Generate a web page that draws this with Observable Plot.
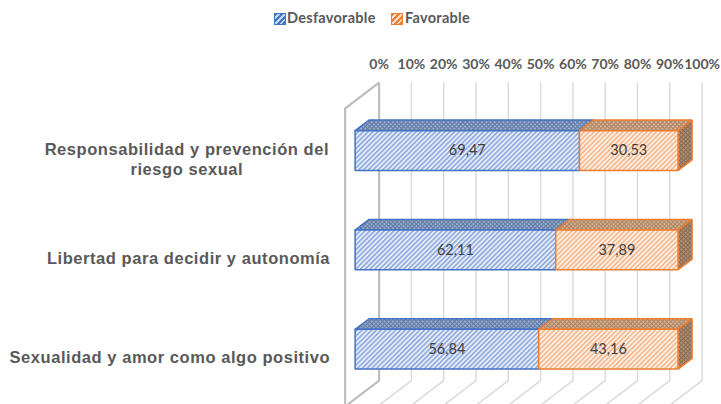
<!DOCTYPE html>
<html lang="es">
<head>
<meta charset="utf-8">
<script src="https://cdn.jsdelivr.net/npm/d3@7"></script>
<script src="https://cdn.jsdelivr.net/npm/@observablehq/plot@0.6"></script>
<style>
html,body{margin:0;padding:0;background:#fff;overflow:hidden}
#legend{height:36px;position:relative;font:700 14.5px Lato,sans-serif;color:#595959;letter-spacing:.28px}
#legend span{position:absolute;top:9px;line-height:18px}
#legend i{position:absolute;top:13px;width:10px;height:10px;display:block}
.cat text{letter-spacing:.55px}
</style>
</head>
<body>
<div id="legend">
  <i style="left:274px;border:1px solid #4472C4;background:repeating-linear-gradient(135deg,#4472C4 0 2px,#c9d6ef 2px 4px)"></i>
  <span style="left:287px">Desfavorable</span>
  <i style="left:391px;border:1px solid #ED7D31;background:repeating-linear-gradient(135deg,#ED7D31 0 2px,#fbdcc6 2px 4px)"></i>
  <span style="left:405px">Favorable</span>
</div>
<div id="chart"></div>
<script>
const categories = ["Responsabilidad y prevención del\nriesgo sexual", "Libertad para decidir y autonomía", "Sexualidad y amor como algo positivo"];
const desfavorable = [69.47, 62.11, 56.84];
const favorable = [30.53, 37.89, 43.16];
const tickValues = [0, 10, 20, 30, 40, 50, 60, 70, 80, 90, 100];
const rows = [0, 1, 2];

const fmt = v => v.toFixed(2).replace(".", ",");
const pxX = 3.23, pxY = 99.33;              // pixels per percent, per row
const zBarFront = 10, zBarBack = 24, zWall = 34, halfBar = 0.2;
const P = (v, row, z) => ({x: v + z / pxX, y: row - 0.76 * z / pxY});

function box(row, a, b) {
  const t = row - halfBar, u = row + halfBar;
  return {
    top: [P(a,t,zBarFront), P(b,t,zBarFront), P(b,t,zBarBack), P(a,t,zBarBack), P(a,t,zBarFront)],
    front: [P(a,t,zBarFront), P(b,t,zBarFront), P(b,u,zBarFront), P(a,u,zBarFront), P(a,t,zBarFront)],
    side: [P(b,t,zBarFront), P(b,t,zBarBack), P(b,u,zBarBack), P(b,u,zBarFront), P(b,t,zBarFront)]
  };
}
const faces = (list, key, from) => rows.flatMap(r => {
  const a = from(r), b = a + list[r];
  return box(r, a, b)[key].map(p => ({...p, r}));
});
const gridBack = tickValues.slice(1).flatMap(v => [
  {...P(v, -0.5, zWall), v}, {...P(v, 2.5, zWall), v}, {...P(v, 2.5, 0), v}
]);
const wall = [P(0, -0.5, 0), P(0, -0.5, zWall), P(0, 2.5, zWall), P(0, 2.5, 0), P(0, -0.5, 0)];

const zero = () => 0;
const blueFrom = zero, orangeFrom = r => desfavorable[r];

const defs = () => {
  const d = d3.create("svg:defs");
  const pat = (id, bg, fg, w, h, cross) => {
    const p = d.append("pattern").attr("id", id).attr("patternUnits", "userSpaceOnUse")
      .attr("width", w).attr("height", w).attr("patternTransform", "rotate(45)");
    p.append("rect").attr("width", w).attr("height", w).attr("fill", bg);
    p.append("rect").attr("width", h).attr("height", w).attr("fill", fg);
    if (cross) p.append("rect").attr("width", w).attr("height", h).attr("fill", fg);
  };
  pat("pBlue", "#e6ecf8", "#8eaadd", 3.4, 1.6);
  pat("pOrange", "#fdf0e6", "#f5b78c", 3.4, 1.6);
  pat("pBlueTop", "#a9b8d2", "#5f7aa6", 3, 1.2, true);
  pat("pOrangeTop", "#d8bda6", "#b08460", 3, 1.2, true);
  pat("pOrangeSide", "#b79a7e", "#8a6a53", 3, 1.2, true);
  return d.node();
};

const face = (list, key, from, fill, stroke) => Plot.line(faces(list, key, from), {
  x: "x", y: "y", z: "r", fill, stroke, strokeWidth: 1.5, strokeLinejoin: "miter", curve: "linear"
});

const plot = Plot.plot({
  width: 721, height: 368,
  marginLeft: 345, marginRight: 53, marginTop: 39, marginBottom: 0,
  x: {domain: [0, 100], range: [344.6, 667.6], axis: null},
  y: {domain: [-0.5, 2.5], range: [72, 370], axis: null},
  style: {background: "#fff", overflow: "hidden"},
  marks: [
    defs,
    Plot.line(gridBack, {x: "x", y: "y", z: "v", stroke: "#d9d9d9", strokeWidth: 1.4}),
    Plot.line(wall, {x: "x", y: "y", stroke: "#bfbfbf", strokeWidth: 2.2, strokeLinejoin: "miter"}),
    Plot.axisX({
      anchor: "top", ticks: tickValues, tickSize: 0, tickPadding: 7, label: null, dx: zWall,
      tickFormat: d => d + "%", fontFamily: "Lato", fontWeight: 700, fontSize: 14, fill: "#595959"
    }),
    face(desfavorable, "top", blueFrom, "url(#pBlueTop)", "#4472C4"),
    face(favorable, "top", orangeFrom, "url(#pOrangeTop)", "#ED7D31"),
    face(favorable, "side", orangeFrom, "url(#pOrangeSide)", "#ED7D31"),
    face(desfavorable, "front", blueFrom, "url(#pBlue)", "#4472C4"),
    face(favorable, "front", orangeFrom, "url(#pOrange)", "#ED7D31"),
    Plot.text(rows, {
      x: r => P(desfavorable[r] / 2, r, zBarFront).x, y: r => P(0, r, zBarFront).y,
      text: r => fmt(desfavorable[r]),
      fontFamily: "Lato", fontSize: 14.5, fill: "#404040"
    }),
    Plot.text(rows, {
      x: r => P(desfavorable[r] + favorable[r] / 2, r, zBarFront).x, y: r => P(0, r, zBarFront).y,
      text: r => fmt(favorable[r]),
      fontFamily: "Lato", fontSize: 14.5, fill: "#404040"
    }),
    Plot.text([0], {
      x: () => -49, y: r => r, text: r => categories[r], textAnchor: "middle", lineHeight: 1.2,
      dy: 0.5, fontFamily: "Liberation Sans", fontWeight: 700, fontSize: 16.5, fill: "#595959", className: "cat"
    }),
    Plot.text([1, 2], {
      x: () => 0, y: r => r, text: r => categories[r], textAnchor: "end", dx: -15, dy: 1,
      fontFamily: "Liberation Sans", fontWeight: 700, fontSize: 16.5, fill: "#595959", className: "cat"
    })
  ]
});
document.getElementById("chart").append(plot);
</script>
</body>
</html>
